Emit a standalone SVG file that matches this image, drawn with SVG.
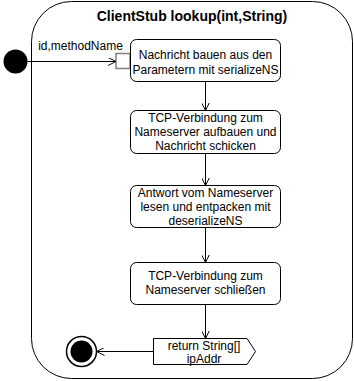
<svg xmlns="http://www.w3.org/2000/svg" width="354" height="381" viewBox="0 0 354 381">
  <style>
    .frame { fill: #ffffff; stroke: #000000; stroke-width: 1; }
    .action { fill: #ffffff; stroke: #000000; stroke-width: 1; }
    .pin { fill: #ffffff; stroke: #808080; stroke-width: 1.5; }
    .flow { fill: none; stroke: #000000; stroke-width: 1; }
    .lbl { font-family: "Liberation Sans", Arial, sans-serif; font-size: 12px; fill: #000000; text-anchor: middle; }
    .title { font-family: "Liberation Sans", Arial, sans-serif; font-size: 14px; font-weight: bold; fill: #000000; text-anchor: middle; }
  </style>
  <defs>
    <marker id="open" viewBox="0 0 10 10" refX="10" refY="5" markerWidth="8" markerHeight="8" markerUnits="userSpaceOnUse" orient="auto">
      <path d="M0,0 L10,5 L0,10" fill="none" stroke="#000000" stroke-width="1.2"/>
    </marker>
  </defs>

  <rect width="354" height="381" fill="#ffffff"/>

  <!-- activity frame -->
  <g id="activity">
    <rect class="frame" x="31.5" y="1.5" width="321" height="377" rx="40" ry="40"/>
    <text class="title" x="192" y="20.5">ClientStub lookup(int,String)</text>
  </g>

  <g id="initial">
    <circle cx="15.5" cy="61.5" r="12" fill="#000000"/>
  </g>

  <g id="build-message">
    <rect class="pin" x="116" y="53.5" width="14" height="15"/>
    <rect class="action" x="130.5" y="39.5" width="150" height="42" rx="6" ry="6"/>
    <text class="lbl" x="205.5" y="59">Nachricht bauen aus den</text>
    <text class="lbl" x="205.5" y="73.5">Parametern mit serializeNS</text>
  </g>

  <g id="send-message">
    <rect class="action" x="130.5" y="110.5" width="150" height="43" rx="6" ry="6"/>
    <text class="lbl" x="205.5" y="122">TCP-Verbindung zum</text>
    <text class="lbl" x="205.5" y="136">Nameserver aufbauen und</text>
    <text class="lbl" x="205.5" y="150">Nachricht schicken</text>
  </g>

  <g id="read-answer">
    <rect class="action" x="130.5" y="185.5" width="150" height="42" rx="6" ry="6"/>
    <text class="lbl" x="205.5" y="196.5">Antwort vom Nameserver</text>
    <text class="lbl" x="205.5" y="210.5">lesen und entpacken mit</text>
    <text class="lbl" x="205.5" y="224.5">deserializeNS</text>
  </g>

  <g id="close-connection">
    <rect class="action" x="130.5" y="262.5" width="150" height="42" rx="6" ry="6"/>
    <text class="lbl" x="205.5" y="280">TCP-Verbindung zum</text>
    <text class="lbl" x="205.5" y="294">Nameserver schließen</text>
  </g>

  <g id="return-pin">
    <path class="action" d="M153.5,338.5 H247 L255.5,351.5 L247,364.5 H153.5 Z"/>
    <text class="lbl" x="204" y="350">return String[]</text>
    <text class="lbl" x="204" y="362.5">ipAddr</text>
  </g>

  <g id="final">
    <circle cx="81.5" cy="351.5" r="15" fill="#ffffff" stroke="#000000" stroke-width="1.5"/>
    <circle cx="81.5" cy="351.5" r="11" fill="#000000"/>
  </g>

  <!-- control flows -->
  <g id="connectors">
    <path class="flow" d="M27.5,61.5 H116" marker-end="url(#open)"/>
    <text class="lbl" x="80.5" y="50">id,methodName</text>
    <path class="flow" d="M205.5,81.5 V110.5" marker-end="url(#open)"/>
    <path class="flow" d="M205.5,153.5 V185.5" marker-end="url(#open)"/>
    <path class="flow" d="M205.5,227.5 V262.5" marker-end="url(#open)"/>
    <path class="flow" d="M205.5,304.5 V338.5" marker-end="url(#open)"/>
    <path class="flow" d="M153.5,351.5 H96.5" marker-end="url(#open)"/>
  </g>
</svg>
